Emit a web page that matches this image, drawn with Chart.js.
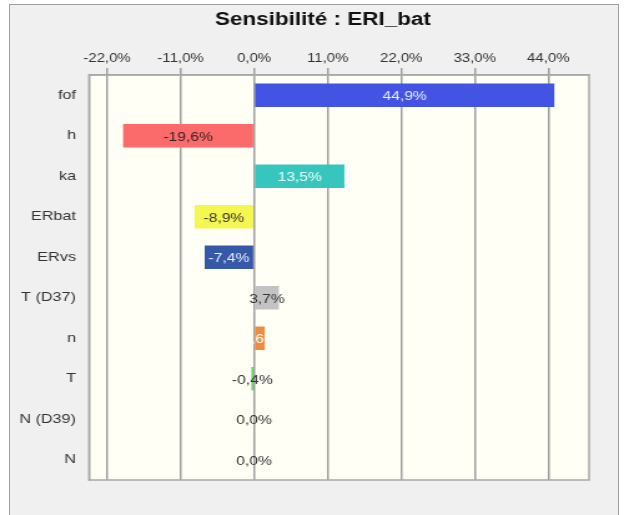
<!DOCTYPE html>
<html>
<head>
<meta charset="utf-8">
<script src="https://cdn.jsdelivr.net/npm/chart.js@4.4.1/dist/chart.umd.min.js"></script>
<style>
  html, body { margin: 0; padding: 0; background: #ffffff; }
  #frame {
    position: absolute; left: 9px; top: 4px; width: 608px; height: 520px;
    background: #f0f0f0; border: 1px solid #a0a0a0;
  }
  #wrap { position: absolute; left: 0; top: 0; width: 624px; height: 515px; }
</style>
</head>
<body>
<div id="frame"></div>
<!-- drawn 500px wide, shown stretched to the full 624px -->
<div id="wrap"><canvas id="result" width="500" height="515" style="width:624px;height:515px"></canvas></div>
<script>
"use strict";
// sensitivity of ERI_bat to each input, in percent
const inputs = ["fof", "h", "ka", "ERbat", "ERvs", "T (D37)", "n", "T", "N (D39)", "N"];
const sensitivity = [44.9, -19.6, 13.5, -8.9, -7.4, 3.7, 1.6, -0.4, 0.0, 0.0];
const tickValues = [-22, -11, 0, 11, 22, 33, 44];
const chartTitle = "Sensibilité : ERI_bat";

// bar fills and label colours
const barColors = ["#4353e4", "#fb6b6b", "#37c6bd", "#f6f650", "#3559a8",
                   "#c3c3c3", "#f08c3e", "#5ccc5c", "#9a9a9a", "#9a9a9a"];
const labelColors = ["#e8ecff", "#3a2020", "#e8fffc", "#333333", "#e8eeff",
                     "#333333", "#ffffff", "#333333", "#333333", "#333333"];

const FONT = "'Liberation Sans', Arial, sans-serif";

function pct(v) {
  return v.toFixed(1).replace(".", ",") + "%";
}

// cream plot background, frame around the plot and the heading
const plotFrame = {
  id: "plotFrame",
  beforeDraw(chart) {
    const a = chart.chartArea;
    const ctx = chart.ctx;
    ctx.save();
    ctx.fillStyle = "#fffff6";
    ctx.fillRect(a.left, a.top, a.right - a.left, a.bottom - a.top);
    ctx.restore();
  },
  afterDraw(chart) {
    const a = chart.chartArea;
    const ctx = chart.ctx;
    ctx.save();
    ctx.strokeStyle = "#a8a8a8";
    ctx.lineWidth = 1.5;
    ctx.strokeRect(a.left, a.top, a.right - a.left, a.bottom - a.top);

    ctx.fillStyle = "#111111";
    ctx.font = "bold 18px " + FONT;
    ctx.textAlign = "center";
    ctx.textBaseline = "middle";
    ctx.fillText(chartTitle, 258.8, 20.5);
    ctx.restore();
  }
};

// value labels centred on each bar
const barLabels = {
  id: "barLabels",
  afterDatasetsDraw(chart) {
    const ctx = chart.ctx;
    const meta = chart.getDatasetMeta(0);
    ctx.save();
    ctx.font = "12.5px " + FONT;
    ctx.textAlign = "center";
    ctx.textBaseline = "middle";
    meta.data.forEach((bar, i) => {
      const cx = (bar.x + bar.base) / 2;
      ctx.fillStyle = labelColors[i];
      ctx.fillText(pct(sensitivity[i]), cx, bar.y + 1.5);
    });
    ctx.restore();
  }
};

const chart = new Chart("result", {
  type: "bar",
  data: {
    labels: inputs,
    datasets: [
      {
        data: sensitivity,
        backgroundColor: barColors,
        borderWidth: 0,
        barPercentage: 0.58,
        categoryPercentage: 1.0,
      },
    ],
  },
  options: {
    indexAxis: "y",
    responsive: false,
    animation: false,
    layout: { padding: { left: 0, right: 28, top: 35.6, bottom: 35 } },
    plugins: {
      legend: { display: false },
      tooltip: { enabled: false },
      title: { display: false },
    },
    scales: {
      x: {
        position: "top",
        min: -24.7,
        max: 50.1,
        afterBuildTicks(scale) {
          scale.ticks = tickValues.map((v) => ({ value: v }));
        },
        afterFit(scale) {
          scale.height = 39.4;
        },
        grid: {
          color: "#9e9e9e",
          lineWidth: 1.5,
          tickLength: 7,
          tickColor: "#9e9e9e",
        },
        border: { display: true, color: "#a8a8a8", width: 1.5 },
        ticks: {
          color: "#333333",
          padding: 2,
          font: { family: FONT, size: 12 },
          callback: (v) => pct(v),
        },
      },
      y: {
        afterFit(scale) {
          scale.width = 71.3;
        },
        grid: { display: false },
        border: { display: true, color: "#a8a8a8", width: 1.5 },
        ticks: {
          color: "#333333",
          padding: 2.4,
          font: { family: FONT, size: 13 },
        },
      },
    },
  },
  plugins: [plotFrame, barLabels],
});
chart.canvas.style.width = "624px";
chart.canvas.style.height = "515px";
</script>
</body>
</html>
